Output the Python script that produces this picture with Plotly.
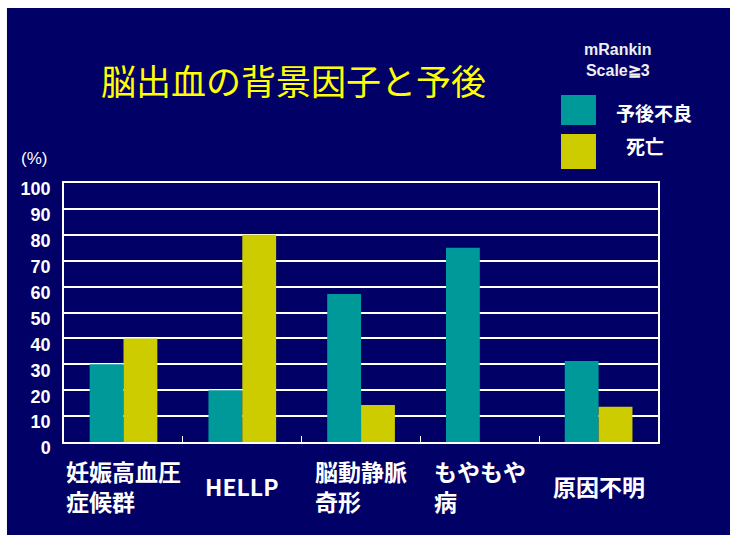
import plotly.graph_objects as go

# Background factors of cerebral hemorrhage and outcome (%)
categories = ["妊娠高血圧<br>症候群", "HELLP", "脳動静脈<br>奇形", "もやもや<br>病", "原因不明"]
series_names = ["予後不良", "死亡"]
poor_outcome = [30, 20, 57.1, 75, 31.3]
death = [40, 80, 14.3, 0, 13.6]
y_ticks = [0, 10, 20, 30, 40, 50, 60, 70, 80, 90, 100]

NAVY = "#000066"
TEAL = "#009999"
OLIVE = "#CCCC00"
JP = "Noto Sans CJK JP"
LAT = "Liberation Sans"

fig = go.Figure()
fig.add_trace(go.Bar(x=categories, y=poor_outcome, name=series_names[0],
                     marker=dict(color=TEAL, line=dict(width=0))))
fig.add_trace(go.Bar(x=categories, y=death, name=series_names[1],
                     marker=dict(color=OLIVE, line=dict(width=0))))

fig.update_layout(
    width=730, height=535,
    margin=dict(l=64, r=72, t=183, b=93),
    paper_bgcolor="white",
    plot_bgcolor=NAVY,
    barmode="group", bargap=0.43, bargroupgap=0,
    showlegend=False,
)

fig.update_xaxes(
    type="category",
    showticklabels=False,
    showline=True, linecolor="white", linewidth=1.5, mirror=True,
    ticks="inside", tickson="boundaries", ticklen=6, tickcolor="white", tickwidth=1,
    showgrid=False,
)
fig.update_yaxes(
    range=[0, 100], tickvals=y_ticks,
    showgrid=True, gridcolor="white", gridwidth=1.5,
    showline=True, linecolor="white", linewidth=1.5, mirror=True,
    ticks="", ticklabelstandoff=8, ticklabelshift=6,
    tickfont=dict(family=LAT, size=18, color="white", weight="bold"),
    zeroline=False,
)

# navy panel behind everything
fig.add_shape(type="rect", xref="paper", yref="paper",
              x0=-0.096, x1=1.13, y0=-0.37, y1=1.676,
              fillcolor=NAVY, line=dict(width=0), layer="below")

# title
fig.add_annotation(text="脳出血の背景因子と予後", xref="paper", yref="paper",
                   x=0.3872, y=1.3977, xanchor="center", yanchor="middle", showarrow=False,
                   font=dict(family=JP, size=35, color="#FFFF00"))

# axis unit
fig.add_annotation(text="(%)", xref="paper", yref="paper",
                   x=-0.0505, y=1.0965, xanchor="center", yanchor="middle", showarrow=False,
                   font=dict(family=LAT, size=17, color="white"))

# legend heading
fig.add_annotation(text="mRankin<br>Scale≧3", xref="paper", yref="paper",
                   x=0.9327, y=1.4749, xanchor="center", yanchor="middle", showarrow=False,
                   font=dict(family=LAT, size=16, color="#EEEEEE", weight="bold"))

# legend swatches and labels
fig.add_shape(type="rect", xref="paper", yref="paper",
              x0=0.8367, x1=0.8956, y0=1.2239, y1=1.3398,
              fillcolor=TEAL, line=dict(width=0))
fig.add_shape(type="rect", xref="paper", yref="paper",
              x0=0.8367, x1=0.8956, y0=1.0541, y1=1.1892,
              fillcolor=OLIVE, line=dict(width=0))
fig.add_annotation(text=series_names[0], xref="paper", yref="paper",
                   x=0.9259, y=1.2741, xanchor="left", yanchor="middle", showarrow=False,
                   font=dict(family=JP, size=19, color="white", weight="bold"))
fig.add_annotation(text=series_names[1], xref="paper", yref="paper",
                   x=0.9428, y=1.1467, xanchor="left", yanchor="middle", showarrow=False,
                   font=dict(family=JP, size=19, color="white", weight="bold"))

# category labels, lines left-aligned under each group
for c in categories:
    fig.add_annotation(text=c, x=c, xref="x", yref="paper", y=-0.17,
                       xanchor="center", yanchor="middle", align="left", showarrow=False,
                       font=dict(family=JP, size=23, color="white", weight="bold"))

fig.write_html("out.html")
